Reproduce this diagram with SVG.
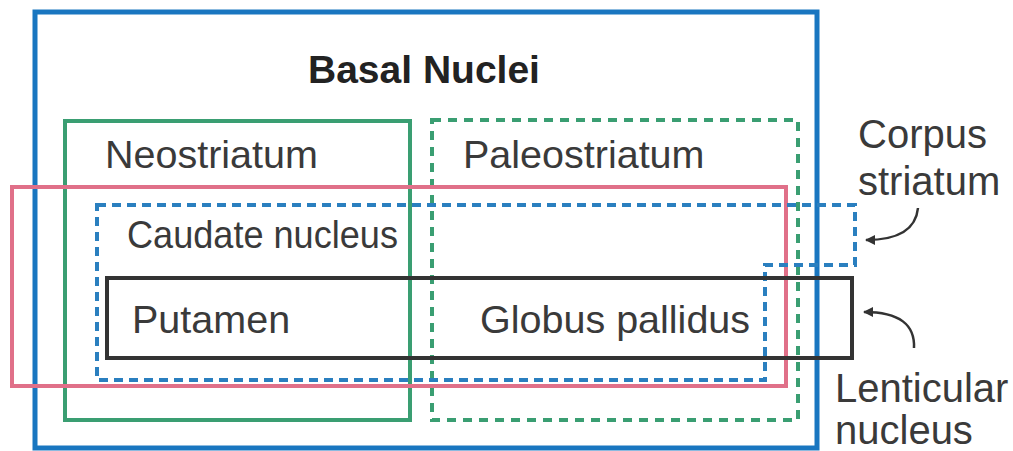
<svg xmlns="http://www.w3.org/2000/svg" width="1013" height="451" viewBox="0 0 1013 451">
<defs>
<marker id="ah" viewBox="0 0 10 10" refX="9" refY="5" markerWidth="4" markerHeight="4" orient="auto" markerUnits="strokeWidth">
<path d="M0,0 L10,5 L0,10 z" fill="#333"/>
</marker>
<style>
text{font-family:"Liberation Sans",Arial,sans-serif;font-size:39.5px;fill:#3a3a3a}
.b{font-weight:bold;fill:#222;font-size:39px}
.s{font-size:40px}
.box{fill:none}
</style>
</defs>
<rect width="1013" height="451" fill="#fff"/>
<g id="basal-nuclei">
<rect class="box" x="35" y="12" width="782" height="436" stroke="#1976c0" stroke-width="5"/>
<text class="b" x="308" y="83">Basal Nuclei</text>
</g>
<g id="neostriatum">
<rect class="box" x="65" y="121" width="345" height="299" stroke="#3a9e72" stroke-width="4"/>
<text x="105" y="168">Neostriatum</text>
</g>
<g id="paleostriatum">
<rect class="box" x="432" y="120" width="366" height="300" stroke="#3a9e72" stroke-width="4" stroke-dasharray="9 7"/>
<text x="463" y="168">Paleostriatum</text>
</g>
<g id="red-box">
<rect class="box" x="12" y="187" width="774" height="199" stroke="#e07089" stroke-width="4"/>
</g>
<g id="corpus-striatum">
<path class="box" d="M97,205 H855 V265 H765 V380 H97 Z" stroke="#2a7fbf" stroke-width="4" stroke-dasharray="9 6"/>
<text x="127" y="248" textLength="271" lengthAdjust="spacingAndGlyphs">Caudate nucleus</text>
</g>
<g id="lenticular-nucleus">
<rect class="box" x="107" y="278" width="745" height="80" stroke="#333" stroke-width="4"/>
<text x="132" y="333">Putamen</text>
<text x="480" y="333">Globus pallidus</text>
</g>
<g id="labels">
<text class="s" x="858" y="148">Corpus</text>
<text class="s" x="858" y="195">striatum</text>
<text class="s" x="835" y="402">Lenticular</text>
<text class="s" x="835" y="444">nucleus</text>
</g>
<g id="connectors">
<path d="M918,208 C916,228 900,240 866,240" fill="none" stroke="#333" stroke-width="2.5" marker-end="url(#ah)"/>
<path d="M914,348 C915,325 900,312 864,312" fill="none" stroke="#333" stroke-width="2.5" marker-end="url(#ah)"/>
</g>
</svg>
